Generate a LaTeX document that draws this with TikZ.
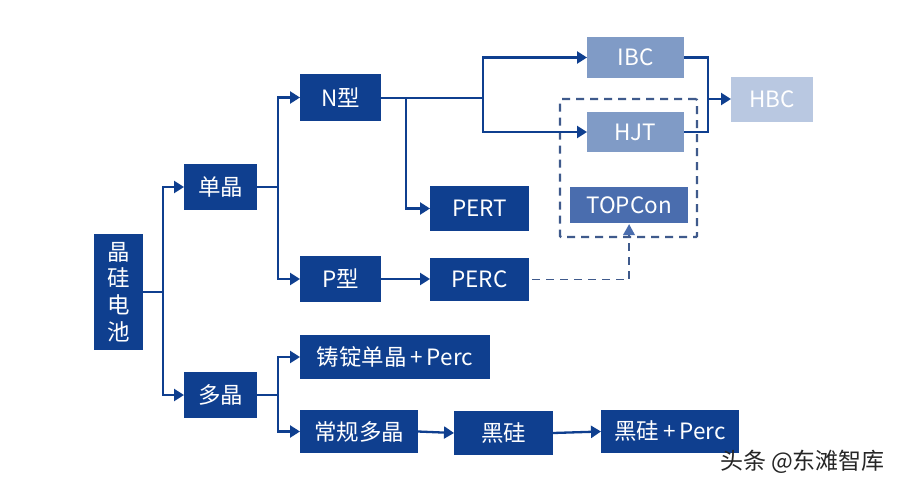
\documentclass[tikz,border=0pt]{standalone}
\usepackage{fontspec}
\setmainfont{Noto Sans CJK SC}
\usetikzlibrary{arrows.meta,calc}
\definecolor{navy}{HTML}{0F3F8F}
\definecolor{midb}{HTML}{809BC6}
\definecolor{paleb}{HTML}{B9C8E1}
\definecolor{topb}{HTML}{4A6DAE}
\definecolor{dashb}{HTML}{3F5A8C}
\tikzset{
 x=1pt,y=-1pt,
 boxbase/.style={anchor=center,inner sep=0pt,outer sep=0pt,text=white,font=\fontsize{22.5}{27}\selectfont},
 darkbox/.style={boxbase,fill=navy},
 midbox/.style={boxbase,fill=midb},
 palebox/.style={boxbase,fill=paleb},
 topbox/.style={boxbase,fill=topb},
 link/.style={draw=navy,line width=2.3pt},
 arrowlink/.style={link,-{Triangle[length=10pt,width=12pt]}},
 dashlink/.style={draw=dashb,line width=1.8pt,dash pattern=on 8pt off 6pt},
}
\newcommand{\pbox}[6]{\node[#1,minimum width=#4-#3,minimum height=#6-#5] (#2) at ({(#3+#4)/2},{(#5+#6)/2})}
\begin{document}
\begin{tikzpicture}
\useasboundingbox (0,0) rectangle (900,488);
\fill[white] (0,0) rectangle (900,488);
\pbox{darkbox}{root}{94}{143}{234}{350} {\parbox{1em}{\centering\fontsize{22.5}{26.7}\selectfont 晶\\硅\\电\\池}};
\pbox{darkbox}{dan}{184}{257}{164}{210} {单晶};
\pbox{darkbox}{duo}{184}{257}{372}{418} {多晶};
\pbox{darkbox}{ntype}{300}{381}{74}{121} {N型};
\pbox{darkbox}{ptype}{300}{381}{256}{302} {P型};
\pbox{darkbox}{pert}{430}{529}{186}{231} {PERT};
\pbox{darkbox}{perc}{430}{529}{258}{301} {PERC};
\pbox{midbox}{ibc}{587}{684}{37}{78} {IBC};
\pbox{midbox}{hjt}{587}{684}{112}{152} {HJT};
\pbox{palebox}{hbc}{731}{813}{77}{122} {HBC};
\pbox{topbox}{topcon}{570}{688}{187}{223} {TOPCon};
\pbox{darkbox}{zhu}{300}{490}{335}{379} {铸锭单晶\,+\,Perc};
\pbox{darkbox}{chang}{300}{418}{410}{453} {常规多晶};
\pbox{darkbox}{hei}{454}{553}{411}{455} {黑硅};
\pbox{darkbox}{heip}{601}{739}{410}{453} {黑硅\,+\,Perc};
\node[inner sep=0pt,text=black!85,font=\fontsize{23}{27}\selectfont] (mark) at (802.5,462) {头条 @东滩智库};
% dashed frame
\node[draw=dashb,line width=2.3pt,dash pattern=on 8pt off 6pt,rounded corners=1pt,minimum width=137pt,minimum height=138pt,inner sep=0pt] (frame) at (628.5,168) {};
% junctions
\coordinate (j1) at (163,292);
\coordinate (j2) at (278,187);
\coordinate (j3) at (483,98);
\coordinate (j4) at (406,98);
\coordinate (j5) at (708,99);
\coordinate (j6) at (278,395);
\draw[link] (root.east |- j1) -- (j1);
\draw[arrowlink] (j1) |- (dan.west);
\draw[arrowlink] (j1) |- (duo.west);
\draw[link] (dan.east) -- (j2);
\draw[arrowlink] (j2) |- (ntype.west);
\draw[arrowlink] (j2) |- (ptype.west);
\draw[link] (ntype.east |- j3) -- (j3);
\draw[arrowlink] (j3) |- (ibc.west);
\draw[arrowlink] (j3) |- (hjt.west);
\draw[arrowlink] (j4) |- (pert.west);
\draw[arrowlink] (ptype.east) -- (ptype.east -| perc.west);
\draw[link] (ibc.east) -| (j5);
\draw[link] (hjt.east) -| (j5);
\draw[arrowlink] (j5) -- (hbc.west |- j5);
\draw[link] (duo.east) -- (j6);
\draw[arrowlink] (j6) |- (zhu.west);
\draw[arrowlink] (j6) |- (chang.west);
\draw[arrowlink] (chang.east) -- (hei.west);
\draw[arrowlink] (hei.east) -- (heip.west);
\draw[dashlink] ($(perc.east)+(3,0)$) -| (topcon.south);
\node[inner sep=0pt,minimum size=0pt] (tip) at (629,224) {};
\fill[topb] (tip) -- ++(6,11) -- ++(-12,0) -- cycle;
\end{tikzpicture}
\end{document}
